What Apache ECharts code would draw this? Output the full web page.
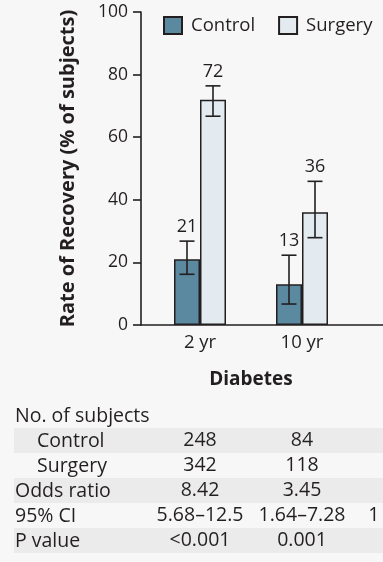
<!DOCTYPE html>
<html>
<head>
<meta charset="utf-8">
<script src="https://cdn.jsdelivr.net/npm/echarts@6/dist/echarts.min.js"></script>
<style>
html,body{margin:0;padding:0;background:#f7f7f7;}
#chart{width:383px;height:562px;}
</style>
</head>
<body>
<div id="chart"></div>
<script>
// ---- data ----
const categories = ['2 yr', '10 yr'];
const seriesNames = ['Control', 'Surgery'];
const controlRecovery = [21, 13];
const surgeryRecovery = [72, 36];
const controlCI = [[16.2, 26.8], [6.7, 22.3]];
const surgeryCI = [[66.7, 76.4], [27.9, 45.9]];
const yTicks = [0, 20, 40, 60, 80, 100];

const tableLabels = ['No. of subjects', 'Control', 'Surgery', 'Odds ratio', '95% CI', 'P value'];
const controlN = ['248', '84'];
const surgeryN = ['342', '118'];
const oddsRatio = ['8.42', '3.45'];
const ci95 = ['5.68\u201312.5', '1.64\u20137.28'];
const ci95ThirdPartial = '1';
const pValue = ['<0.001', '0.001'];

// ---- styles ----
const FONT = "'Open Sans', 'Noto Sans', sans-serif";
const INK = '#231f20';
const controlColor = '#5a89a0';
const surgeryColor = '#e3ebf1';
const BAR_W = 26;
const TABLE_FONT = '19.5px ' + FONT;

const chart = echarts.init(document.getElementById('chart'), null, {renderer: 'canvas'});

function errorSeries(name, ci, vals, dir) {
  return {
    type: 'custom',
    name: name + ' CI',
    xAxisIndex: 1, yAxisIndex: 1,
    z: 5,
    silent: true,
    data: ci.map((c, i) => [i, c[0], c[1], vals[i]]),
    renderItem: function (params, api) {
      const top = api.coord([api.value(0), api.value(2)]);
      const bot = api.coord([api.value(0), api.value(1)]);
      const x = top[0] + dir * BAR_W / 2;
      const half = 7.5;
      const ls = {stroke: INK, lineWidth: 1.6};
      return {
        type: 'group',
        children: [
          {type: 'line', shape: {x1: x, y1: top[1], x2: x, y2: bot[1]}, style: ls},
          {type: 'line', shape: {x1: x - half, y1: top[1], x2: x + half, y2: top[1]}, style: ls},
          {type: 'line', shape: {x1: x - half, y1: bot[1], x2: x + half, y2: bot[1]}, style: ls},
          {type: 'text', style: {text: String(api.value(3)), x: x, y: top[1] - 5,
            textAlign: 'center', textVerticalAlign: 'bottom',
            font: '18px ' + FONT, fill: INK}}
        ]
      };
    }
  };
}

const option = {
  backgroundColor: '#f7f7f7',
  animation: false,
  textStyle: {fontFamily: FONT, color: INK},
  legend: {
    data: seriesNames,
    left: 158, top: 11,
    icon: 'rect',
    itemWidth: 18, itemHeight: 17,
    itemGap: 23,
    textStyle: {fontSize: 18.5, color: INK, fontFamily: FONT, padding: [0, 0, 0, 4]}
  },
  grid: [
    {left: 141, top: 12, height: 313, width: 300},
    {left: 149, top: 12, height: 313, width: 204}
  ],
  xAxis: [
    {type: 'category', gridIndex: 0, data: [''],
      axisLine: {show: true, lineStyle: {color: INK, width: 1.6}},
      axisTick: {show: false}, axisLabel: {show: false}},
    {type: 'category', gridIndex: 1, data: categories,
      name: 'Diabetes', nameLocation: 'middle', nameGap: 45,
      nameTextStyle: {fontSize: 19, fontWeight: 'bold', color: INK, fontFamily: FONT},
      axisLine: {show: false}, axisTick: {show: false},
      axisLabel: {fontSize: 18.5, color: INK, margin: 8, fontFamily: FONT}}
  ],
  yAxis: [
    {type: 'value', gridIndex: 0, min: 0, max: 100, interval: 20,
      name: 'Rate of Recovery (% of subjects)', nameLocation: 'middle', nameGap: 63,
      nameTextStyle: {fontSize: 20, fontWeight: 'bold', color: INK, fontFamily: FONT},
      axisLine: {show: true, lineStyle: {color: INK, width: 1.6}},
      axisTick: {show: true, length: 8, lineStyle: {color: INK, width: 1.6}},
      axisLabel: {fontSize: 17.5, color: INK, margin: 13, fontFamily: FONT,
        formatter: v => yTicks.includes(v) ? String(v) : ''},
      splitLine: {show: false}},
    {type: 'value', gridIndex: 1, min: 0, max: 100, interval: 20, show: false}
  ],
  series: [
    {type: 'bar', name: 'Control', xAxisIndex: 1, yAxisIndex: 1, data: controlRecovery,
      barWidth: BAR_W, barGap: '0%',
      itemStyle: {color: controlColor, borderColor: INK, borderWidth: 1.5}},
    {type: 'bar', name: 'Surgery', xAxisIndex: 1, yAxisIndex: 1, data: surgeryRecovery,
      barWidth: BAR_W, barGap: '0%',
      itemStyle: {color: surgeryColor, borderColor: INK, borderWidth: 1.5}},
    errorSeries('Control', controlCI, controlRecovery, -1),
    errorSeries('Surgery', surgeryCI, surgeryRecovery, 1)
  ]
};
chart.setOption(option);

// ---- table below the chart, columns aligned with the categories ----
const colX = categories.map((c, i) => chart.convertToPixel({xAxisIndex: 1}, i));
const step = colX[1] - colX[0];
const rowTop = 403, rowH = 25;
const rowsValues = [null, controlN, surgeryN, oddsRatio, ci95, pValue];
const indent = [false, true, true, false, false, false];
const g = [];
tableLabels.forEach((lab, r) => {
  const y0 = rowTop + r * rowH;
  if (r % 2 === 1) {
    g.push({type: 'rect', shape: {x: 14, y: y0, width: 383 - 14, height: rowH},
      style: {fill: '#ebebeb'}, z: 0});
  }
  g.push({type: 'text', style: {text: lab, x: indent[r] ? 37 : 15, y: y0 + rowH / 2 + 1,
    textVerticalAlign: 'middle', font: TABLE_FONT, fill: INK}, z: 1});
  const vals = rowsValues[r];
  if (vals) {
    vals.forEach((v, c) => {
      g.push({type: 'text', style: {text: v, x: colX[c], y: y0 + rowH / 2,
        textAlign: 'center', textVerticalAlign: 'middle', font: TABLE_FONT, fill: INK}, z: 1});
    });
  }
  if (r === 4) {
    g.push({type: 'text', style: {text: ci95ThirdPartial, x: colX[1] + step * 0.65, y: y0 + rowH / 2,
      textAlign: 'left', textVerticalAlign: 'middle', font: TABLE_FONT, fill: INK}, z: 1});
  }
});
chart.setOption({graphic: g});
</script>
</body>
</html>
